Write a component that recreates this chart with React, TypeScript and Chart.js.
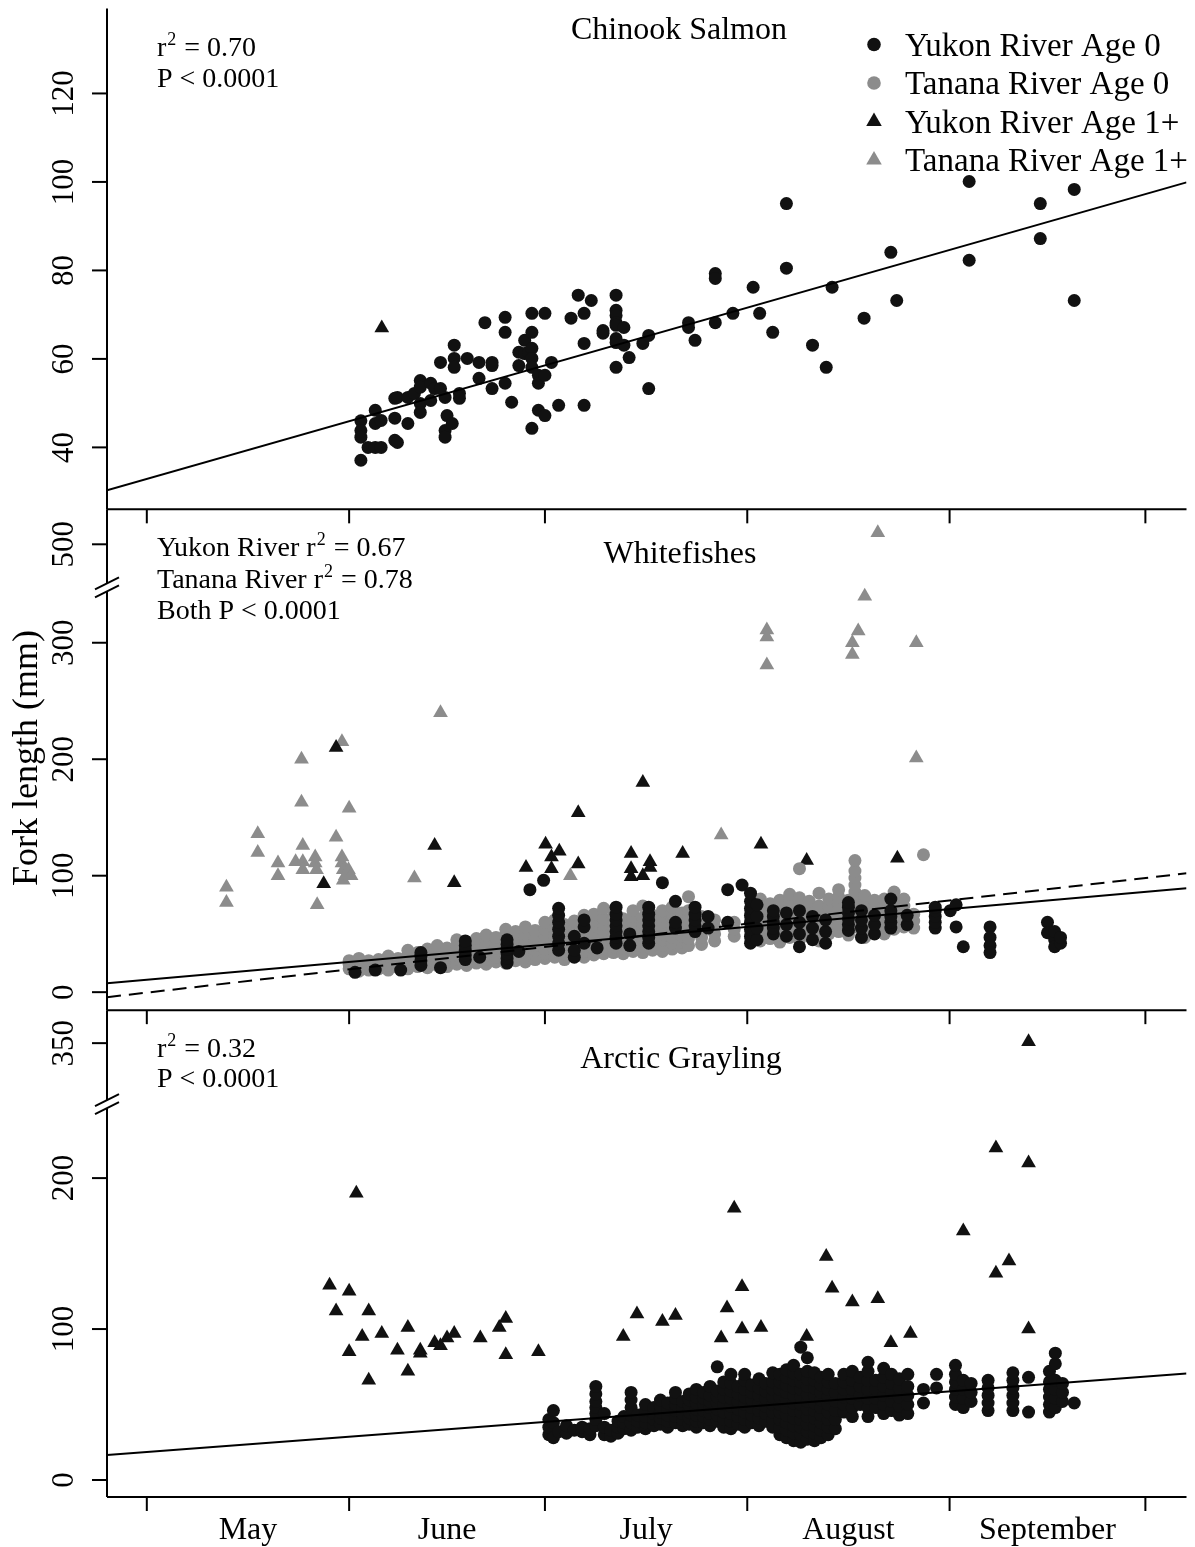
import React, { useEffect, useRef } from 'react';
import { Chart, registerables } from 'chart.js';

Chart.register(...registerables);

type Pt = [number, number];
type Col = [number, number[]];

const FONT = '"Liberation Serif", "Times New Roman", Times, serif';
const BLACK = '#111111';
const GREY = '#8c8c8c';

// ---------- x axis (day of year) ----------
const xRange: Pt = [114.9, 280.3];
const monthStarts = [121, 152, 182, 213, 244, 274];
const monthNames = ['May', 'June', 'July', 'August', 'September'];
const monthMids = [136.5, 167, 197.5, 228.5, 259];

// ---------- y tick labels ----------
const chinookTicks = [40, 60, 80, 100, 120];
const whiteUpperTicks = [500];
const whiteLowerTicks = [0, 100, 200, 300];
const grayUpperTicks = [350];
const grayLowerTicks = [0, 100, 200];

// ---------- Chinook Salmon ----------
const chinookYukon0: Pt[] = [
  [153.8, 46], [153.8, 43.8], [153.8, 42.3], [153.8, 37.1], [154.9, 40], [156, 48.4], [156, 45.4], [156, 40],
  [156.9, 46.1], [156.9, 40], [159, 51.1], [159, 46.6], [159, 41.6], [159.4, 51.3], [159.4, 41.1], [161, 45.4],
  [161, 51.3], [162, 52.2], [162.9, 55.1], [162.9, 53.6], [162.9, 49.9], [162.9, 47.9], [164.5, 54.5], [164.5, 50.6],
  [165.1, 53.3], [166, 53.3], [166, 59.2], [166.7, 51.3], [167, 47.2], [166.7, 43.8], [166.7, 42.3], [167.8, 45.4],
  [168.1, 63.1], [168.1, 60.1], [168.1, 58.1], [168.9, 52.2], [168.9, 51.1], [170.1, 60.1], [171.9, 59.2], [171.9, 55.6],
  [172.8, 68.2], [173.9, 59.2], [173.9, 58.5], [173.9, 53.3], [175.9, 69.4], [175.9, 66], [175.9, 54.5], [176.9, 50.2],
  [178, 61.5], [178, 58.5], [178.9, 64.2], [178.9, 61.2], [179.5, 61.5], [180, 70.3], [180, 66], [180, 62.4],
  [180, 60.1], [180, 58.1], [180, 44.3], [181, 56.3], [181, 54.5], [181, 48.4], [182, 70.3], [182, 56.3],
  [182, 47.2], [183, 59.2], [184.1, 49.5], [186, 69.2], [187.1, 74.4], [188, 70.3], [188, 63.5], [188, 49.5],
  [189.1, 73.2], [190.9, 66.4], [190.9, 65.8], [192.9, 74.4], [192.9, 71], [192.9, 69.8], [192.9, 68.2], [192.9, 67.6],
  [192.9, 64.6], [192.9, 63.7], [192.9, 58.1], [194.1, 67.1], [194.1, 63.1], [194.9, 60.3], [197, 63.5], [197.9, 65.3],
  [197.9, 53.3], [204, 68.2], [204, 67.1], [205, 64.2], [208.1, 79.3], [208.1, 78.2], [208.1, 68.2], [210.8, 70.3],
  [213.9, 76.2], [214.9, 70.3], [216.9, 66], [219, 95.1], [219, 80.5], [223, 63.1], [225.1, 58.1], [226, 76.2],
  [230.9, 69.2], [235, 84.1], [235.9, 73.2], [247, 100.1], [247, 82.3], [257.9, 95.1], [257.9, 87.2], [263.1, 98.3],
  [263.1, 73.2],
];
const chinookYukon1: Pt[] = [[157, 67]];
const chinookFit: Pt[] = [[114.9, 30.3], [280.3, 99.9]];

// ---------- Whitefishes ----------
const whiteTanana1: Pt[] = [
  [133.2, 90], [133.2, 77], [138, 136], [138, 120], [141.1, 111], [141.1, 100], [143.8, 112], [144.7, 200],
  [144.7, 163], [144.9, 126], [144.9, 112], [144.9, 105], [146.8, 116], [146.8, 111], [147, 105], [147.1, 75],
  [150, 133], [150.9, 215], [150.9, 116], [150.9, 111], [151.1, 105], [151.4, 100], [151.1, 96], [152, 158],
  [151.9, 105], [152.3, 100], [162, 98], [166, 240], [185.9, 100], [209, 135], [216, 311], [216, 305],
  [216, 281], [229.1, 300], [229.1, 290], [230, 310], [231, 340], [238.9, 300], [238.9, 201],
];
const whiteTanana1High: Pt[] = [[233, 510]];
const whiteYukon1: Pt[] = [
  [150, 210], [148.1, 93], [165.1, 126], [168.1, 94], [179.1, 107], [182.1, 127], [183, 116], [184.2, 121],
  [183, 106], [187.1, 154], [187.1, 110], [195.2, 119], [195.2, 106], [195.2, 99], [197, 180], [197, 100],
  [198.1, 112], [198.1, 107], [203.1, 119], [215.1, 127], [222.1, 113], [236, 115],
];
const whiteTanana0: Col[] = [
  [152, [20, 24, 27]], [153.5, [18, 22, 26, 29]], [155, [19, 23, 27]], [156.5, [20, 24, 28]],
  [158, [19, 23, 27, 31]], [159.5, [21, 25, 29]], [161, [20, 24, 28, 32, 36]], [162.5, [22, 26, 30, 34]],
  [164, [21, 25, 29, 33, 37]], [165.5, [23, 27, 31, 35, 40]], [167, [22, 26, 30, 34, 38]],
  [168.5, [24, 28, 32, 36, 40, 45]], [170, [23, 27, 31, 35, 39, 43]], [171.5, [25, 29, 33, 37, 41, 46]],
  [173, [24, 28, 32, 36, 40, 44, 49]], [174.5, [26, 30, 34, 38, 42, 47]], [176, [25, 29, 33, 37, 41, 45, 50, 54]],
  [177.5, [27, 31, 35, 39, 43, 47, 52]], [179, [26, 30, 34, 38, 42, 46, 50, 56]], [180.5, [28, 32, 36, 40, 44, 48, 53]],
  [182, [29, 33, 37, 41, 45, 49, 54, 60]], [183.5, [30, 35, 40, 45, 50, 55, 62]], [185, [28, 33, 38, 43, 48, 53, 58]],
  [186.5, [31, 36, 41, 46, 51, 56, 61]], [188, [30, 35, 40, 45, 50, 55, 60, 66]], [189.5, [32, 37, 42, 47, 52, 57, 62, 67]],
  [191, [33, 38, 43, 48, 53, 58, 63, 72]], [192.5, [34, 39, 44, 49, 54, 59, 64, 69]], [194, [33, 38, 43, 48, 53, 58, 63]],
  [195.5, [35, 40, 45, 50, 55, 60, 65, 70]], [197, [34, 39, 44, 49, 54, 59, 64, 74]], [198.5, [36, 41, 46, 51, 56, 61, 66]],
  [200, [35, 40, 45, 50, 55, 60, 65, 70]], [201.5, [37, 42, 47, 52, 57, 62, 67, 73]], [203, [38, 43, 48, 53, 58, 63, 68]],
  [204, [40, 46, 52, 58, 64, 70, 82]], [206, [41, 47, 53, 59, 65]], [208, [44, 50, 56, 62]], [211, [48, 54, 60]],
  [213.5, [46, 52, 58, 64, 70]], [215, [44, 50, 56, 62, 68, 74, 80]], [216.5, [46, 52, 58, 64, 70, 76]],
  [218, [43, 49, 55, 61, 67, 73, 79]], [219.5, [47, 53, 59, 65, 71, 77, 84]], [221, [45, 51, 57, 63, 69, 75, 81, 106]],
  [222.5, [48, 54, 60, 66, 72, 78]], [224, [44, 50, 56, 62, 68, 74, 85]], [225.5, [50, 56, 62, 68, 74, 80]],
  [227, [52, 58, 64, 70, 76, 82, 88]], [228.5, [49, 55, 61, 67, 73, 79]],
  [229.5, [56, 62, 68, 74, 80, 86, 92, 98, 104, 113]], [231, [47, 53, 59, 65, 71, 77, 83]], [232.5, [55, 61, 67, 73, 79]],
  [234, [50, 56, 62, 68, 74, 80]], [235.5, [54, 60, 66, 72, 78, 86]], [237, [56, 62, 68, 74, 80]],
  [238.5, [55, 61, 67]], [240, [118]],
];
const whiteYukon0: Col[] = [
  [152.9, [17]], [156, [19]], [159.9, [19]], [163, [23, 27, 31, 34]], [166, [21]], [169.8, [28, 32, 36, 40, 44]],
  [172, [30]], [176.2, [25, 29, 33, 37, 41, 45]], [178, [35]], [179.7, [88]], [181.8, [96]],
  [184.1, [36, 42, 48, 54, 60, 66, 72]], [186.5, [30, 36, 48]], [188, [42, 56, 62]], [190, [38]],
  [192.9, [42, 47, 52, 57, 62, 67, 73]], [195, [40, 50]], [197.9, [42, 47, 52, 57, 62, 67, 73]], [200, [94]],
  [202, [55, 60, 78]], [205, [52, 57, 62, 67, 73]], [207, [55, 65]], [210, [88, 60]], [212.2, [92]],
  [213.5, [42, 48, 54, 60, 66, 72, 78, 85]], [214.5, [45, 55, 65, 75]], [217, [50, 55, 60, 65, 70]],
  [219, [48, 58, 68]], [221, [39, 50, 60, 70]], [223, [45, 55, 65]], [225, [42, 52, 62]],
  [228.5, [53, 58, 63, 68, 73, 77]], [230.5, [47, 55, 62, 70]], [232.5, [50, 58, 66]], [235, [55, 60, 65, 70, 80]],
  [237.5, [58, 66]], [241.8, [55, 60, 65, 70, 73]], [244.1, [70]], [245, [75, 56]], [246.1, [39]],
  [250.2, [56, 47, 40, 34]], [259, [60, 51]], [260.1, [45, 39, 52]], [261, [42, 47]],
];
const whiteYukonFit: Pt[] = [[114.9, 7.7], [280.3, 89.3]];
const whiteTananaFit: Pt[] = [[114.9, -4.3], [280.3, 102.1]];

// ---------- Arctic Grayling ----------
const grayYukon1: Pt[] = [
  [149, 129], [152, 125], [150, 112], [155, 112], [153.1, 190], [154, 95], [157, 97], [152, 85], [155, 66],
  [159.4, 86], [161, 101], [161, 72], [162.9, 86], [162.9, 84], [165.1, 91], [166, 89], [167, 94], [168.1, 97],
  [172.1, 94], [175, 101], [176, 107], [176, 83], [181, 85], [194, 95], [196.1, 110], [200, 105], [202, 109],
  [209, 94], [209.9, 114], [211, 180], [212.2, 128], [212.2, 100], [215.1, 101], [222.1, 95], [225.1, 148],
  [226, 127], [229.1, 118], [233, 120], [235, 91], [238, 97], [246.1, 165], [251.1, 220], [251.1, 137],
  [253.1, 145], [256.1, 210], [256.1, 100],
];
const grayYukon1High: Pt[] = [[256.1, 351]];
const grayYukon0: Col[] = [
  [182.6, [30, 35, 40]], [183.3, [28, 38, 46]], [184.1, [32]], [185.3, [31, 36]], [186.5, [33]], [187.7, [32, 35]],
  [188.9, [30, 34]], [189.8, [36, 40, 44, 48, 52, 57, 62]], [191.1, [30, 35, 44]], [192.1, [29, 33]],
  [193.2, [31, 35, 39]], [194.1, [34, 38, 42]], [195.2, [33, 38, 43, 48, 53, 58]], [196.2, [35, 39, 43]],
  [197.4, [34, 38, 42, 46, 50]], [198.7, [36, 40, 44, 48]], [199.7, [37, 41, 45, 49, 53]], [200.8, [35, 39, 43, 47, 51]],
  [202, [38, 42, 46, 50, 54, 58]], [203.1, [36, 40, 44, 48, 52]], [204.1, [37, 41, 45, 49, 53, 57]],
  [205.2, [35, 39, 43, 47, 51, 55, 60]], [206.3, [38, 42, 46, 50, 54, 58]], [207.3, [36, 40, 44, 48, 52, 56, 62]],
  [208.4, [39, 43, 47, 51, 55, 59, 75]], [209.4, [35, 40, 45, 50, 55, 60, 65]], [210.5, [34, 39, 44, 49, 54, 59, 64, 70]],
  [211.6, [37, 42, 47, 52, 57, 62]], [212.6, [35, 40, 45, 50, 55, 60, 66, 70]], [213.7, [38, 43, 48, 53, 58, 63]],
  [214.8, [36, 41, 46, 51, 56, 61, 67]], [215.8, [39, 44, 49, 54, 59, 64]], [216.9, [35, 40, 45, 50, 55, 60, 65, 71]],
  [218, [30, 35, 40, 45, 50, 55, 60, 65, 70]], [219, [28, 33, 38, 43, 48, 53, 58, 63, 68, 73]],
  [220.1, [26, 31, 36, 41, 46, 51, 56, 61, 66, 71, 76]], [221.2, [25, 30, 35, 40, 45, 50, 55, 60, 65, 70, 88]],
  [222.2, [27, 32, 37, 42, 47, 52, 57, 62, 67, 72, 81]], [223.3, [26, 31, 36, 41, 46, 51, 56, 61, 66, 71]],
  [224.3, [28, 33, 38, 43, 48, 53, 58, 63, 68]], [225.4, [30, 35, 40, 45, 50, 55, 60, 65, 70]],
  [226.5, [34, 40, 46, 52, 58, 64]], [227.8, [45, 50, 55, 60, 65, 70]], [229.1, [42, 48, 54, 60, 66, 72]],
  [230.3, [50, 56, 62, 68]], [231.5, [42, 48, 54, 60, 66, 72, 78]], [232.7, [48, 54, 60, 66]],
  [233.9, [44, 50, 56, 62, 68, 74]], [235.1, [46, 52, 58, 64, 70]], [236.3, [43, 49, 55, 61, 67]],
  [237.6, [44, 50, 56, 62, 70]], [240, [51, 60]], [242, [61, 70]], [244.9, [50, 55, 60, 65, 70, 76]],
  [246.1, [48, 54, 60, 66]], [247.3, [52, 58, 64]], [249.9, [46, 51, 56, 61, 66]], [253.7, [46, 51, 56, 61, 66, 71]],
  [256.1, [45, 68]], [259.3, [45, 50, 55, 60, 65, 72]], [260.2, [48, 54, 60, 66, 77, 84]], [261.3, [52, 58, 64]],
  [263.1, [51]],
];
const grayFit: Pt[] = [[114.9, 16.6], [280.3, 70.5]];

// ---------- legend ----------
const legendLabels = ['Yukon River Age 0', 'Tanana River Age 0', 'Yukon River Age 1+', 'Tanana River Age 1+'];
const legendColors = [BLACK, GREY, BLACK, GREY];
const legendShapes = ['circle', 'circle', 'triangle', 'triangle'];

const pts = (a: Pt[]) => a.map(([x, y]) => ({ x, y }));
const colPts = (c: Col[]) => c.flatMap(([x, vs]) => vs.map((y) => ({ x, y })));

const CIRCLE_R = 6.5;
const TRI_R = 8.5;

function scatterSet(data: any[], yAxisID: string, color: string, shape: string, order: number) {
  const r = shape === 'triangle' ? TRI_R : CIRCLE_R;
  return {
    data,
    yAxisID,
    xAxisID: 'x',
    order,
    showLine: false,
    pointStyle: shape,
    pointRadius: r,
    pointHoverRadius: r,
    pointBackgroundColor: color,
    pointBorderColor: color,
    pointBorderWidth: 0,
  };
}
function lineSet(data: any[], yAxisID: string, dash: number[]) {
  return {
    data,
    yAxisID,
    xAxisID: 'x',
    order: 0,
    showLine: true,
    borderColor: '#000',
    borderWidth: 2,
    borderDash: dash,
    pointRadius: 0,
    pointHoverRadius: 0,
    fill: false,
  };
}

function yAxis(min: number, max: number, weight: number, stackWeight: number, ticks: number[]) {
  return {
    type: 'linear',
    position: 'left',
    stack: 'fish',
    stackWeight,
    weight,
    min,
    max,
    grid: { display: false },
    border: { display: false },
    ticks: { display: false },
    afterBuildTicks: (s: any) => { s.ticks = ticks.map((value) => ({ value })); },
    afterFit: (s: any) => { s.width = 107; },
  };
}

function drawR2(ctx: CanvasRenderingContext2D, prefix: string, suffix: string, x: number, y: number) {
  ctx.textAlign = 'left';
  ctx.textBaseline = 'alphabetic';
  ctx.font = `28px ${FONT}`;
  ctx.fillText(prefix + 'r', x, y);
  const w = ctx.measureText(prefix + 'r').width;
  ctx.font = `18px ${FONT}`;
  ctx.fillText('2', x + w + 1, y - 11);
  const w2 = ctx.measureText('2').width;
  ctx.font = `28px ${FONT}`;
  ctx.fillText(suffix, x + w + w2 + 2, y);
}

const decorPlugin = {
  id: 'fishDecor',
  afterDraw(chart: any) {
    const { ctx, chartArea, scales } = chart;
    const L = chartArea.left;
    const R = chartArea.right;
    const xs = scales.x;
    const yT = scales.yTop, yMU = scales.yMidU, yML = scales.yMidL, yBU = scales.yBotU, yBL = scales.yBotL;
    ctx.save();
    ctx.strokeStyle = '#000';
    ctx.fillStyle = '#000';
    ctx.lineWidth = 2;
    ctx.lineCap = 'butt';
    const seg = (x1: number, y1: number, x2: number, y2: number) => {
      ctx.beginPath(); ctx.moveTo(x1, y1); ctx.lineTo(x2, y2); ctx.stroke();
    };
    const G = 4;
    // y axis lines with breaks
    seg(L, yT.top, L, yT.bottom);
    seg(L, yMU.top, L, yMU.bottom - G);
    seg(L, yML.top + G, L, yML.bottom);
    seg(L, yBU.top, L, yBU.bottom - G);
    seg(L, yBL.top + G, L, yBL.bottom);
    // break marks
    [yMU.bottom, yBU.bottom].forEach((c: number) => {
      [-G, G].forEach((o) => seg(L - 12, c + o + 6, L + 12, c + o - 6));
    });
    // horizontal panel lines with month ticks
    [yT.bottom, yML.bottom, yBL.bottom].forEach((yy: number) => {
      seg(L, yy, R, yy);
      xs.ticks.forEach((t: any) => {
        const px = xs.getPixelForValue(t.value);
        seg(px, yy, px, yy + 14);
      });
    });
    // y ticks + rotated labels
    ctx.font = `31px ${FONT}`;
    [yT, yMU, yML, yBU, yBL].forEach((sc: any) => {
      sc.ticks.forEach((t: any) => {
        const py = sc.getPixelForValue(t.value);
        seg(L - 15, py, L, py);
        ctx.save();
        ctx.translate(L - 34, py);
        ctx.rotate(-Math.PI / 2);
        ctx.textAlign = 'center';
        ctx.textBaseline = 'alphabetic';
        ctx.fillText(String(t.value), 0, 0);
        ctx.restore();
      });
    });
    // month labels
    ctx.font = `32px ${FONT}`;
    ctx.textAlign = 'center';
    ctx.textBaseline = 'alphabetic';
    monthMids.forEach((d, i) => ctx.fillText(monthNames[i], xs.getPixelForValue(d), yBL.bottom + 42));
    // y axis title
    ctx.save();
    ctx.font = `36px ${FONT}`;
    ctx.translate(37, 758);
    ctx.rotate(-Math.PI / 2);
    ctx.textAlign = 'center';
    ctx.fillText('Fork length (mm)', 0, 0);
    ctx.restore();
    // panel titles
    ctx.font = `32px ${FONT}`;
    ctx.textAlign = 'center';
    ctx.fillText('Chinook Salmon', 679, yT.top + 30);
    ctx.fillText('Whitefishes', 680, yMU.top + 54);
    ctx.fillText('Arctic Grayling', 681, yBU.top + 58);
    // statistics
    drawR2(ctx, '', ' = 0.70', 157, yT.top + 47);
    ctx.fillText('P < 0.0001', 157, yT.top + 78);
    drawR2(ctx, 'Yukon River ', ' = 0.67', 157, yMU.top + 47);
    drawR2(ctx, 'Tanana River ', ' = 0.78', 157, yMU.top + 79);
    ctx.fillText('Both P < 0.0001', 157, yMU.top + 110);
    drawR2(ctx, '', ' = 0.32', 157, yBU.top + 47);
    ctx.fillText('P < 0.0001', 157, yBU.top + 77);
    // legend
    ctx.font = `33px ${FONT}`;
    legendLabels.forEach((lab, i) => {
      const base = yT.top + 47 + i * 38.5;
      const cy = base - 11;
      ctx.fillStyle = legendColors[i];
      ctx.beginPath();
      if (legendShapes[i] === 'circle') {
        ctx.arc(874, cy, 6.8, 0, Math.PI * 2);
      } else {
        const r = 9;
        ctx.moveTo(874, cy - r);
        ctx.lineTo(874 + r * 0.866, cy + r / 2);
        ctx.lineTo(874 - r * 0.866, cy + r / 2);
        ctx.closePath();
      }
      ctx.fill();
      ctx.fillStyle = '#000';
      ctx.textAlign = 'left';
      ctx.fillText(lab, 905, base);
    });
    ctx.restore();
  },
};

export default function App() {
  const ref = useRef<HTMLCanvasElement | null>(null);
  useEffect(() => {
    if (!ref.current) return;
    const chart = new Chart(ref.current, {
      type: 'scatter',
      data: {
        datasets: [
          lineSet(pts(chinookFit), 'yTop', []),
          scatterSet(pts(chinookYukon0), 'yTop', BLACK, 'circle', 1),
          scatterSet(pts(chinookYukon1), 'yTop', BLACK, 'triangle', 3),
          lineSet(pts(whiteYukonFit), 'yMidL', []),
          lineSet(pts(whiteTananaFit), 'yMidL', [14, 8]),
          scatterSet(colPts(whiteYukon0), 'yMidL', BLACK, 'circle', 1),
          scatterSet(colPts(whiteTanana0), 'yMidL', GREY, 'circle', 2),
          scatterSet(pts(whiteYukon1), 'yMidL', BLACK, 'triangle', 3),
          scatterSet(pts(whiteTanana1), 'yMidL', GREY, 'triangle', 4),
          scatterSet(pts(whiteTanana1High), 'yMidU', GREY, 'triangle', 4),
          lineSet(pts(grayFit), 'yBotL', []),
          scatterSet(colPts(grayYukon0), 'yBotL', BLACK, 'circle', 1),
          scatterSet(pts(grayYukon1), 'yBotL', BLACK, 'triangle', 3),
          scatterSet(pts(grayYukon1High), 'yBotU', BLACK, 'triangle', 3),
        ] as any,
      },
      options: {
        responsive: false,
        maintainAspectRatio: false,
        animation: false,
        devicePixelRatio: 1,
        events: [],
        layout: { padding: { top: 8, left: 0, right: 0, bottom: 0 } },
        plugins: { legend: { display: false }, tooltip: { enabled: false }, title: { display: false } },
        scales: {
          x: {
            type: 'linear',
            position: 'bottom',
            min: xRange[0],
            max: xRange[1],
            grid: { display: false },
            border: { display: false },
            ticks: { display: false },
            afterBuildTicks: (s: any) => { s.ticks = monthStarts.map((value) => ({ value })); },
            afterFit: (s: any) => { s.height = 50; },
          },
          yTop: yAxis(26.0, 139.2, 5, 501, chinookTicks),
          yMidU: yAxis(463.1, 530.0, 4, 78, whiteUpperTicks),
          yMidL: yAxis(-15.45, 347.6, 3, 423, whiteLowerTicks),
          yBotU: yAxis(309.6, 371.85, 2, 94, grayUpperTicks),
          yBotL: yAxis(-11.26, 249.0, 1, 393, grayLowerTicks),
        } as any,
      },
      plugins: [decorPlugin],
    });
    return () => chart.destroy();
  }, []);
  return (
    <div style={{ position: 'absolute', left: 0, top: 0, width: 1195, height: 1547, background: '#fff' }}>
      <canvas ref={ref} width={1195} height={1547} style={{ display: 'block' }} />
    </div>
  );
}
